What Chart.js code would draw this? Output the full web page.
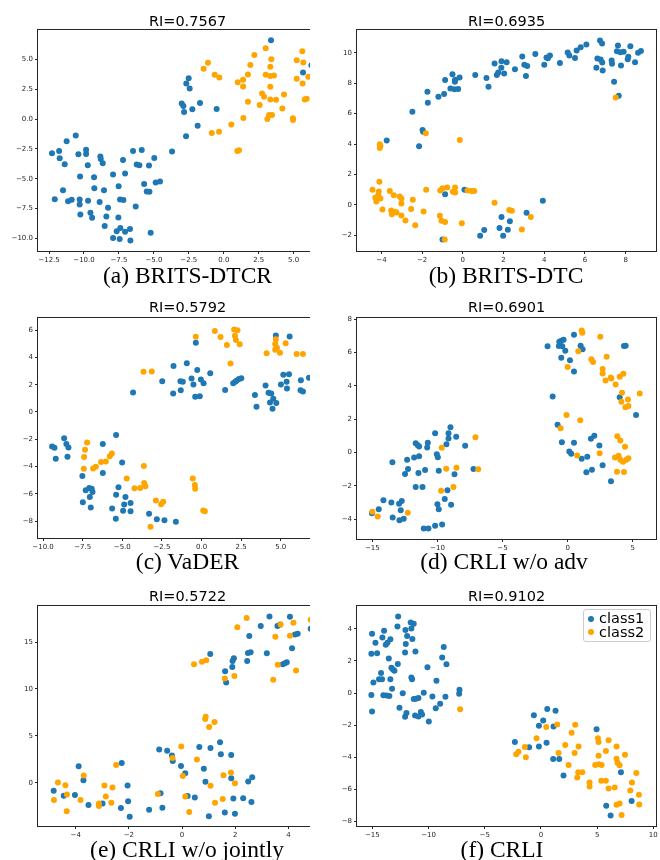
<!DOCTYPE html>
<html><head><meta charset="utf-8">
<script src="https://cdn.jsdelivr.net/npm/chart.js@4.4.0/dist/chart.umd.min.js"></script>
<style>
body{margin:0;background:#fff;}
#fig{position:relative;width:660px;height:860px;overflow:hidden;background:#fff;}
.clipcol{position:absolute;left:0;top:0;width:310px;height:860px;overflow:hidden;}
.cv{position:absolute;}
.title{position:absolute;font-family:'DejaVu Sans';font-size:14.5px;line-height:17px;white-space:nowrap;transform:translateX(-50%);color:#000;}
.cap{position:absolute;font-family:'Liberation Serif';font-size:23.5px;line-height:28px;white-space:nowrap;transform:translateX(-50%);color:#000;}
.lgtxt{position:absolute;font-family:'DejaVu Sans';font-size:14.5px;line-height:16px;white-space:nowrap;color:#000;}
.dot{position:absolute;width:6px;height:6px;border-radius:50%;}
</style></head>
<body><div id="fig"><div class="clipcol" id="leftcol"></div></div>
<script>
// ---------- data ----------
const SERIES_NAMES = ['class1', 'class2'];
const RI_TITLES = ['RI=0.7567', 'RI=0.6935', 'RI=0.5792', 'RI=0.6901', 'RI=0.5722', 'RI=0.9102'];
const CAPTIONS = ['(a) BRITS-DTCR', '(b) BRITS-DTC', '(c) VaDER', '(d) CRLI w/o adv', '(e) CRLI w/o jointly', '(f) CRLI'];

const A_CLASS1 = [[3.38,6.62],[6.27,4.53],[5.67,3.91],[-2.51,3.44],[-2.68,2.99],[-2.44,2.57],[-3.01,1.32],[-2.89,1.10],[-2.84,0.60],[-2.25,0.82],[-1.70,1.35],[-0.51,0.85],[-1.87,-0.55],[-2.70,-1.44],[-3.70,-2.72],[-4.97,-3.25],[-5.35,-3.89],[-5.87,-2.58],[-6.49,-2.67],[-6.23,-3.81],[-6.04,-3.87],[-4.87,-5.32],[-4.56,-5.23],[-5.70,-5.45],[-5.51,-6.07],[-5.32,-6.10],[-7.52,-5.62],[-7.06,-4.56],[-7.21,-3.42],[-7.92,-4.65],[-7.42,-6.74],[-7.18,-6.79],[-7.54,-8.24],[-7.40,-9.13],[-7.66,-9.41],[-7.92,-9.97],[-7.45,-10.05],[-7.06,-9.44],[-6.71,-9.22],[-6.68,-10.17],[-6.30,-7.32],[-5.23,-9.52],[-8.52,-8.97],[-8.40,-8.16],[-8.28,-7.43],[-8.57,-5.96],[-8.66,-3.70],[-8.83,-3.14],[-8.80,-3.34],[-9.26,-5.79],[-9.28,-4.87],[-9.73,-3.87],[-9.85,-2.92],[-9.85,-2.56],[-10.40,-2.95],[-10.59,-1.38],[-10.28,-4.81],[-10.31,-6.74],[-10.31,-7.15],[-10.26,-7.99],[-9.71,-6.85],[-8.88,-6.96],[-9.54,-7.85],[-9.42,-8.27],[-10.88,-6.76],[-11.14,-6.88],[-11.50,-5.96],[-11.38,-3.78],[-11.74,-3.28],[-11.78,-2.67],[-11.24,-1.86],[-12.29,-2.86],[-12.09,-6.71]];
const A_CLASS2 = [[-1.13,4.72],[-1.44,4.22],[-0.65,3.72],[-0.32,3.49],[1.00,3.10],[1.38,3.30],[1.38,2.74],[1.73,3.75],[1.90,4.55],[2.19,5.39],[3.00,5.95],[3.40,5.03],[3.33,4.39],[3.00,3.72],[3.33,3.61],[3.59,3.66],[3.33,2.71],[2.74,2.16],[2.88,1.88],[3.33,1.65],[3.74,1.63],[4.31,2.07],[1.73,1.46],[2.57,1.18],[4.19,0.90],[3.24,0.34],[3.45,0.34],[3.12,0.01],[1.40,0.09],[0.54,-0.46],[-0.34,-1.05],[-0.86,-1.16],[0.97,-2.67],[1.09,-2.61],[4.95,0.07],[4.95,-0.07],[5.22,4.94],[5.62,5.70],[5.69,4.75],[5.22,3.38],[5.64,2.99],[6.05,3.55],[5.79,1.65],[5.93,1.71]];

const B_CLASS1 = [[-2.48,6.13],[-1.98,4.93],[-1.95,4.82],[-2.15,3.86],[-3.74,4.23],[-1.74,7.44],[-1.72,6.72],[-1.20,7.11],[-0.92,7.29],[-0.87,8.21],[-0.61,7.66],[-0.51,8.60],[-0.39,8.10],[-0.38,8.23],[-0.41,7.60],[-0.23,7.62],[-0.16,8.38],[0.61,8.54],[1.16,8.34],[1.26,7.77],[1.56,9.30],[1.67,8.54],[1.74,8.71],[1.90,9.45],[1.89,9.02],[2.03,8.64],[2.15,9.39],[2.56,8.93],[2.92,9.76],[3.02,9.21],[3.16,9.13],[3.10,8.47],[3.56,9.93],[4.00,9.21],[4.11,9.69],[4.28,9.83],[4.18,9.65],[4.77,9.34],[5.15,10.02],[5.23,9.83],[5.51,9.67],[5.59,10.15],[5.79,10.37],[6.07,10.55],[6.56,9.02],[6.61,9.63],[6.77,9.56],[6.85,9.37],[6.74,10.81],[6.84,10.61],[6.87,8.84],[7.31,9.50],[7.33,9.28],[7.43,8.10],[7.62,10.48],[7.57,10.11],[7.74,10.04],[7.90,10.07],[7.77,9.17],[8.23,10.44],[8.13,9.74],[8.10,9.58],[8.46,9.39],[8.61,10.00],[8.75,10.13],[7.66,7.18],[-0.87,0.71],[0.08,0.99],[-1.00,-2.28],[0.85,-2.02],[1.05,-1.65],[1.80,-1.52],[1.90,-0.80],[1.98,-2.02],[2.21,-1.63],[2.31,-1.08],[3.13,-0.51],[3.93,0.27]];
const B_CLASS2 = [[-4.08,3.99],[-4.08,3.75],[-4.05,3.88],[-1.82,4.71],[-0.15,4.27],[7.51,7.07],[-4.10,1.52],[-4.44,0.99],[-4.13,0.89],[-4.15,0.67],[-4.30,0.47],[-4.05,0.43],[-4.25,0.23],[-3.95,-0.30],[-3.59,0.91],[-3.39,0.64],[-3.10,0.56],[-3.02,0.43],[-3.02,0.10],[-3.52,-0.36],[-3.49,-0.62],[-3.34,-0.45],[-3.26,-0.49],[-3.02,-0.69],[-2.82,-1.02],[-2.46,0.34],[-2.54,-0.27],[-2.34,-1.34],[-1.93,-0.43],[-1.80,0.99],[-1.13,-0.71],[-1.05,-1.04],[-0.87,-1.13],[-1.11,0.95],[-1.00,1.10],[-0.77,1.15],[-0.49,0.86],[-0.38,1.15],[-0.38,0.82],[-0.89,-2.28],[-0.05,-1.21],[0.23,0.95],[0.43,0.91],[0.56,0.91],[1.56,0.14],[2.28,-0.34],[2.41,-0.38],[2.90,-1.61],[3.34,-0.80]];

const C_CLASS1 = [[-0.36,5.08],[4.69,5.61],[5.56,5.54],[-1.77,3.37],[-0.93,3.57],[-2.48,2.26],[-4.32,1.43],[-1.79,1.36],[-1.33,2.26],[-1.18,2.21],[-1.31,1.60],[-0.63,2.45],[-0.51,2.01],[-0.27,3.08],[-0.04,2.38],[0.13,2.11],[-0.40,1.11],[-0.11,1.16],[0.55,2.84],[1.49,1.62],[2.00,2.11],[2.13,2.21],[2.23,2.31],[2.36,2.41],[2.51,2.48],[3.37,1.24],[3.47,0.39],[4.04,1.94],[4.23,1.41],[4.40,1.36],[4.32,0.70],[4.53,0.97],[4.48,0.24],[4.72,0.65],[5.16,2.72],[5.01,2.01],[5.37,2.21],[5.39,1.72],[5.52,2.77],[6.27,2.33],[6.25,1.60],[6.40,1.50],[6.78,2.50],[-9.43,-2.53],[-9.28,-2.63],[-9.20,-3.43],[-8.67,-1.92],[-8.53,-2.34],[-8.40,-2.61],[-8.46,-3.29],[-5.39,-1.68],[-6.23,-2.34],[-6.23,-4.48],[-5.01,-3.70],[-7.52,-4.70],[-7.49,-6.62],[-7.31,-5.74],[-7.09,-5.57],[-6.93,-5.62],[-6.88,-5.86],[-7.05,-6.23],[-6.99,-7.00],[-5.24,-5.52],[-5.39,-6.06],[-5.64,-7.08],[-5.41,-7.83],[-4.80,-6.23],[-4.88,-6.79],[-4.95,-7.25],[-4.48,-6.67],[-4.48,-7.28],[-3.31,-7.47],[-2.82,-7.86],[-2.34,-7.93],[-1.62,-8.05]];
const C_CLASS2 = [[-0.36,5.51],[0.84,5.93],[1.20,5.49],[1.60,4.91],[2.06,6.05],[2.27,6.00],[2.11,5.59],[2.17,5.27],[2.41,4.96],[1.83,3.55],[4.69,5.34],[4.65,4.98],[4.76,4.71],[4.65,4.57],[4.95,4.35],[5.31,5.03],[4.11,4.30],[6.00,4.25],[6.40,4.25],[-3.66,2.94],[-3.14,2.96],[-7.22,-2.24],[-7.35,-2.77],[-7.41,-3.31],[-7.43,-4.16],[-6.84,-4.14],[-6.67,-4.02],[-6.34,-3.67],[-6.04,-3.64],[-5.79,-3.25],[-5.66,-3.04],[-4.72,-4.87],[-4.23,-5.59],[-3.87,-5.57],[-3.62,-5.21],[-3.54,-5.45],[-3.64,-3.97],[-2.88,-6.49],[-2.55,-6.76],[-2.42,-6.59],[-3.22,-8.41],[-0.55,-4.87],[-0.42,-5.35],[-0.40,-5.62],[0.11,-7.22],[0.21,-7.27]];

const D_CLASS1 = [[-1.54,6.37],[-0.64,6.65],[-0.49,6.71],[-0.31,6.77],[-0.67,6.39],[-0.41,6.37],[-0.18,6.11],[-0.49,5.69],[0.18,5.53],[0.49,7.06],[0.49,4.86],[1.00,6.41],[1.15,6.19],[-1.15,3.36],[4.33,6.39],[4.46,6.41],[4.00,3.32],[5.26,2.25],[-0.77,1.67],[-0.44,0.62],[0.13,0.06],[0.28,-0.08],[0.49,0.58],[1.08,-0.38],[1.51,-0.26],[1.44,-1.19],[1.79,0.82],[2.05,1.01],[1.87,-1.03],[2.44,0.42],[2.69,-0.76],[3.33,-1.73],[-15.03,-3.64],[-14.51,-3.40],[-14.15,-2.87],[-13.54,-3.00],[-13.46,-0.58],[-13.44,-3.90],[-12.95,-3.08],[-12.74,-2.91],[-12.82,-3.46],[-12.92,-4.06],[-12.59,-3.98],[-12.49,-1.29],[-12.26,-0.99],[-12.33,-0.44],[-11.79,-0.30],[-11.67,0.56],[-11.51,0.44],[-11.41,0.36],[-11.41,-0.22],[-11.46,-1.23],[-11.67,-2.07],[-11.15,-2.07],[-11.05,-4.56],[-10.69,-4.56],[-10.95,-1.05],[-10.74,0.58],[-10.79,0.30],[-10.18,1.15],[-10.05,-0.10],[-9.97,-0.28],[-9.90,-1.09],[-10.18,-4.40],[-9.64,-4.32],[-10.00,-3.10],[-9.90,-3.40],[-9.44,-2.79],[-9.23,-2.27],[-8.95,-3.14],[-9.15,1.15],[-9.15,0.84],[-9.31,0.50],[-9.00,1.51],[-8.56,0.94],[-8.69,-1.31],[-7.87,0.40],[-7.23,-0.99]];
const D_CLASS2 = [[1.08,7.32],[1.13,7.18],[2.51,6.95],[0.82,6.07],[0.00,5.13],[1.82,5.59],[1.95,5.43],[3.00,5.75],[2.69,5.01],[2.69,4.74],[2.92,4.32],[3.31,4.50],[3.36,4.44],[3.69,4.08],[4.00,4.54],[4.28,4.72],[4.18,3.58],[4.13,3.04],[4.44,2.71],[4.67,2.79],[4.64,3.18],[5.54,3.54],[-0.08,2.25],[0.97,1.93],[-0.54,1.45],[0.74,-0.18],[2.46,-0.04],[3.82,0.98],[4.05,0.72],[4.41,0.34],[3.64,-0.30],[3.92,-0.20],[4.05,-0.44],[4.26,-0.56],[4.51,-0.44],[4.67,-0.34],[3.79,-1.15],[4.33,-1.17],[-15.00,-3.56],[-14.59,-3.84],[-12.28,-3.62],[-9.67,0.28],[-9.33,-0.98],[-8.54,-0.92],[-9.72,-2.29],[-8.77,-2.07],[-7.08,0.92],[-6.87,-1.01]];

const E_CLASS1 = [[3.29,17.72],[4.06,17.69],[2.96,16.70],[3.59,16.70],[3.69,16.87],[4.84,16.41],[2.53,15.64],[4.25,15.81],[4.35,15.88],[4.14,14.33],[1.06,13.72],[2.48,13.83],[2.58,13.90],[3.19,13.80],[1.95,13.27],[1.90,12.98],[2.45,12.98],[1.89,12.35],[1.62,11.89],[1.66,10.68],[3.79,12.63],[3.87,12.73],[3.94,12.84],[-3.89,1.77],[-3.71,0.28],[-4.83,-0.85],[-4.45,-1.38],[-4.03,-1.31],[-3.52,-2.37],[-2.99,-2.19],[-2.27,2.12],[-2.05,-0.28],[-2.03,-1.95],[-2.30,-2.69],[-1.97,-3.61],[-1.24,-2.87],[-0.86,3.54],[-0.56,3.43],[-0.38,2.90],[-0.35,2.33],[-0.04,1.80],[0.12,1.03],[-0.81,-1.10],[-0.74,-2.65],[0.21,-1.41],[0.48,-1.56],[0.65,3.82],[1.07,3.71],[1.43,4.32],[1.46,3.04],[0.82,1.49],[0.88,0.11],[1.85,2.97],[1.85,0.50],[1.01,-3.57],[1.61,-3.15],[1.93,-1.66],[1.99,-3.29],[2.30,-1.63],[2.49,0.14],[2.64,0.60],[2.61,-2.05]];
const E_CLASS2 = [[2.43,17.55],[2.08,16.59],[3.71,16.87],[4.19,17.05],[4.84,17.37],[3.51,15.56],[4.06,15.67],[0.45,12.63],[0.75,12.91],[0.91,13.05],[3.60,12.59],[4.29,11.96],[3.43,10.97],[1.61,11.11],[1.97,11.39],[0.89,7.04],[0.87,6.79],[1.22,6.47],[1.02,5.94],[-0.03,3.86],[-0.36,2.65],[0.56,2.48],[0.03,0.74],[1.56,0.81],[1.84,1.10],[1.99,-0.04],[1.07,-0.32],[0.12,-1.45],[-0.91,-1.20],[0.27,-3.11],[1.24,-2.12],[1.53,-1.73],[-2.48,1.91],[-3.70,0.78],[-4.67,0.04],[-4.39,-0.25],[-4.33,-1.24],[-4.82,-1.84],[-3.82,-1.84],[-4.34,-3.04],[-2.92,-0.28],[-2.87,-1.45],[-2.62,-0.50],[-2.66,-2.12],[-3.13,-2.19],[-3.13,-2.48]];

const F_CLASS1 = [[-12.71,4.76],[-12.77,4.14],[-11.59,4.39],[-11.32,4.31],[-12.06,3.92],[-11.91,3.55],[-11.53,4.02],[-11.44,3.36],[-13.96,3.88],[-15.03,3.69],[-14.11,3.46],[-14.73,3.13],[-13.40,3.34],[-13.66,3.13],[-13.81,3.01],[-12.03,3.05],[-15.09,2.45],[-14.58,2.47],[-12.09,2.52],[-11.17,2.58],[-13.54,2.14],[-12.74,1.81],[-13.31,1.57],[-13.16,1.46],[-13.04,1.38],[-14.23,1.24],[-14.91,0.66],[-14.41,0.85],[-14.14,0.85],[-13.40,0.85],[-13.25,0.27],[-15.09,-0.12],[-14.02,-0.14],[-13.75,-0.16],[-13.49,-0.19],[-15.03,-1.15],[-12.59,-0.91],[-12.30,-0.02],[-11.53,0.97],[-11.47,0.85],[-11.97,-1.24],[-12.09,-1.48],[-11.32,-0.37],[-11.14,-0.35],[-10.90,-0.31],[-11.20,-1.40],[-10.90,-1.46],[-10.69,-1.18],[-10.58,-1.34],[-10.43,0.02],[-9.98,-1.77],[-10.10,1.61],[-9.66,-0.21],[-9.30,0.76],[-9.36,-0.95],[-8.97,-0.66],[-8.79,2.21],[-8.65,2.87],[-8.41,1.79],[-8.50,-0.23],[-7.25,0.21],[-7.28,-0.04],[-2.32,-3.05],[-1.05,-3.38],[-0.63,-1.38],[-0.18,-2.04],[-0.18,-3.32],[0.20,-1.71],[0.56,-0.99],[0.50,-3.09],[1.12,-2.08],[1.30,-1.11],[1.09,-4.10],[1.63,-4.10],[2.01,-5.13],[4.95,-2.25],[7.12,-4.93],[5.81,-7.01],[6.20,-7.61],[8.07,-6.72]];
const F_CLASS2 = [[-7.19,-1.01],[-2.20,-3.81],[-2.00,-3.65],[-1.43,-3.36],[-1.34,-4.00],[-0.39,-2.82],[0.47,-2.12],[1.45,-1.96],[1.57,-3.73],[2.16,-3.24],[2.46,-4.47],[2.73,-2.47],[3.05,-1.98],[3.00,-3.73],[3.32,-4.93],[3.35,-3.32],[3.68,-4.93],[3.23,-5.26],[4.33,-5.57],[4.33,-5.81],[4.83,-4.47],[5.13,-4.43],[5.40,-4.47],[5.07,-2.82],[5.13,-3.05],[5.13,-3.90],[5.37,-5.46],[5.78,-5.46],[5.78,-3.61],[6.02,-2.93],[6.02,-5.94],[6.56,-5.88],[6.73,-3.32],[6.73,-4.08],[6.82,-4.33],[7.00,-4.49],[7.48,-3.84],[6.73,-6.95],[7.00,-6.87],[7.18,-7.59],[7.95,-6.06],[8.10,-5.57],[8.49,-4.97],[8.72,-6.33],[8.75,-6.93]];

const A_XTICKS = [-12.5,-10,-7.5,-5,-2.5,0,2.5,5,7.5], A_YTICKS = [-10,-7.5,-5,-2.5,0,2.5,5];
const B_XTICKS = [-4,-2,0,2,4,6,8], B_YTICKS = [-2,0,2,4,6,8,10];
const C_XTICKS = [-10,-7.5,-5,-2.5,0,2.5,5,7.5], C_YTICKS = [-8,-6,-4,-2,0,2,4,6];
const D_XTICKS = [-15,-10,-5,0,5], D_YTICKS = [-4,-2,0,2,4,6,8];
const E_XTICKS = [-4,-2,0,2,4], E_YTICKS = [0,5,10,15];
const F_XTICKS = [-15,-10,-5,0,5,10], F_YTICKS = [-8,-6,-4,-2,0,2,4];

// ---------- layout / styling ----------
const BLUE = '#1f77b4', ORANGE = '#ffa500', INK = '#262626';
const YW = 30, PT = 5, XH = 20;
const PANELS = [
  {c1:A_CLASS1,c2:A_CLASS2,box:[38,29,337,251],left:true, xlim:[-13.29,8.10], ylim:[-11.06,7.46], xt:A_XTICKS,yt:A_YTICKS,xd:1,yd:1,titleY:26, capY:283, capX:187.5},
  {c1:B_CLASS1,c2:B_CLASS2,box:[357,29,656,251],left:false,xlim:[-5.20,9.49], ylim:[-3.03,11.49], xt:B_XTICKS,yt:B_YTICKS,xd:0,yd:0,titleY:26, capY:283, capX:506},
  {c1:C_CLASS1,c2:C_CLASS2,box:[38,317,337,538],left:true, xlim:[-10.32,8.55], ylim:[-9.24,6.875],xt:C_XTICKS,yt:C_YTICKS,xd:1,yd:0,titleY:312.3,capY:568.3,capX:187.5},
  {c1:D_CLASS1,c2:D_CLASS2,box:[357,317,656,539],left:false,xlim:[-16.18,6.79],ylim:[-5.19,8.06], xt:D_XTICKS,yt:D_YTICKS,xd:0,yd:0,titleY:312.3,capY:568.3,capX:504},
  {c1:E_CLASS1,c2:E_CLASS2,box:[38,605,337,826],left:true, xlim:[-5.42,5.83], ylim:[-4.60,18.82],xt:E_XTICKS,yt:E_YTICKS,xd:0,yd:0,titleY:601, capY:857, capX:187},
  {c1:F_CLASS1,c2:F_CLASS2,box:[357,605,656,826],left:false,xlim:[-16.37,10.24],ylim:[-8.27,5.40],xt:F_XTICKS,yt:F_YTICKS,xd:0,yd:0,titleY:601, capY:857, capX:502, legend:true}
];

const fmt = (v, d) => (v < 0 ? '\u2212' : '') + Math.abs(v).toFixed(d);

const boxPlugin = {
  id: 'axbox',
  afterDraw(chart) {
    const {left, top, right, bottom} = chart.chartArea;
    const ctx = chart.ctx;
    ctx.save();
    ctx.strokeStyle = INK; ctx.lineWidth = 1;
    ctx.strokeRect(Math.round(left) - 0.5, Math.round(top) - 0.5, Math.round(right - left) + 1, Math.round(bottom - top) + 1);
    ctx.restore();
  }
};

const fig = document.getElementById('fig');
const leftcol = document.getElementById('leftcol');

function axisOpts(lim, ticks, dec, isX) {
  return {
    type: 'linear', min: lim[0], max: lim[1],
    afterFit: s => { if (isX) s.height = XH; else s.width = YW; },
    afterBuildTicks: s => { s.ticks = ticks.map(v => ({value: v})); },
    ticks: {font: {family: 'DejaVu Sans', size: 7}, color: INK, padding: 2, maxRotation: 0, autoSkip: false,
            callback: v => fmt(v, dec)},
    grid: {display: true, drawOnChartArea: false, drawTicks: true, tickLength: 3, tickColor: INK, tickWidth: 1},
    border: {display: false}
  };
}

PANELS.forEach((p, i) => {
  const [L, T, R, B] = p.box;
  const PR = p.left ? 6 : 4;
  const cv = document.createElement('canvas');
  const w = R - L + YW + PR, h = B - T + PT + XH;
  cv.width = w; cv.height = h;
  cv.className = 'cv';
  cv.style.left = (L - YW) + 'px'; cv.style.top = (T - PT) + 'px';
  cv.style.width = w + 'px'; cv.style.height = h + 'px';
  (p.left ? leftcol : fig).appendChild(cv);
  new Chart(cv, {
    type: 'scatter',
    data: {datasets: [
      {label: SERIES_NAMES[0], data: p.c1.map(([x, y]) => ({x, y})), backgroundColor: BLUE, borderWidth: 0,
       pointRadius: 3, pointHoverRadius: 3, order: 1, clip: 0},
      {label: SERIES_NAMES[1], data: p.c2.map(([x, y]) => ({x, y})), backgroundColor: ORANGE, borderWidth: 0,
       pointRadius: 3, pointHoverRadius: 3, order: 0, clip: 0}
    ]},
    options: {
      responsive: false, animation: false, devicePixelRatio: 1, events: [],
      layout: {padding: {left: 0, top: PT, right: PR, bottom: 0}},
      plugins: {legend: {display: false}, tooltip: {enabled: false}, title: {display: false}},
      scales: {x: axisOpts(p.xlim, p.xt, p.xd, true), y: axisOpts(p.ylim, p.yt, p.yd, false)}
    },
    plugins: [boxPlugin]
  });
  const t = document.createElement('div');
  t.className = 'title'; t.textContent = RI_TITLES[i];
  t.style.left = ((L + R) / 2) + 'px'; t.style.top = (p.titleY - 13.5) + 'px';
  fig.appendChild(t);
  const c = document.createElement('div');
  c.className = 'cap'; c.textContent = CAPTIONS[i];
  c.style.left = p.capX + 'px'; c.style.top = (p.capY - 21.6) + 'px';
  fig.appendChild(c);
  if (p.legend) {
    const lg = document.createElement('div');
    lg.style.cssText = 'position:absolute;left:583px;top:609px;width:66px;height:31px;border:1px solid #cccccc;border-radius:3px;background:rgba(255,255,255,0.8);';
    fig.appendChild(lg);
    [[BLUE, 618.5, 623.7], [ORANGE, 632, 637]].forEach(([col, dy, by], k) => {
      const d = document.createElement('div');
      d.className = 'dot'; d.style.background = col;
      d.style.left = (591 - 3) + 'px'; d.style.top = (dy - 3) + 'px';
      fig.appendChild(d);
      const s = document.createElement('div');
      s.className = 'lgtxt'; s.textContent = SERIES_NAMES[k];
      s.style.left = '599px'; s.style.top = (by - 13.3) + 'px';
      fig.appendChild(s);
    });
  }
});
</script>
</body></html>
